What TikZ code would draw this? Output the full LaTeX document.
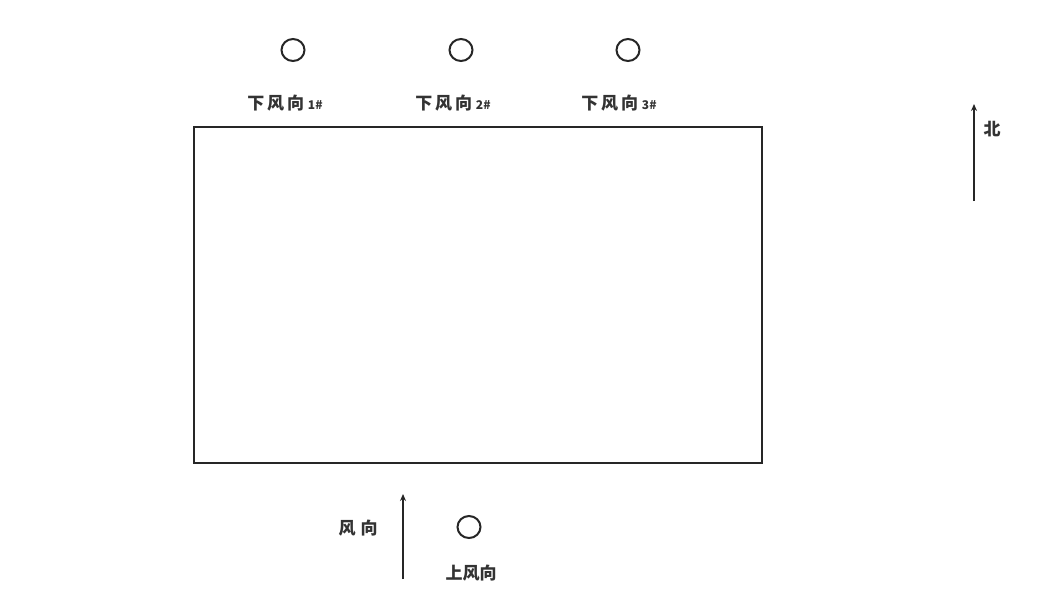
\documentclass[tikz,border=0pt]{standalone}
\usepackage{fontspec}
\newfontfamily\cjk{Noto Sans CJK SC}[BoldFont={Noto Sans CJK SC Black}]
\usetikzlibrary{arrows.meta,shapes.geometric}
\tikzset{
  well/.style={draw=black!85, line width=2pt, ellipse, minimum width=23pt, minimum height=22pt, inner sep=0pt},
  lbl/.style={font=\cjk\bfseries\fontsize{17}{19}\selectfont, text=black!80, inner sep=1pt},
  arr/.style={draw=black!85, line width=2.2pt, -{Stealth[length=7pt,width=6pt]}},
  site/.style={draw=black!85, line width=2.2pt}
}
\newcommand{\numtag}[1]{{\fontsize{12}{13}\selectfont #1}}
\begin{document}
\begin{tikzpicture}[x=1pt,y=-1pt]
\useasboundingbox[fill=white] (0,0) rectangle (1049,606);
\draw[site] (194,127) rectangle (762,463);
\node[well] (d1) at (293,50) {};
\node[well] (d2) at (461,50) {};
\node[well] (d3) at (628,50) {};
\node[lbl] (l1) at (285,103) {下\,风\,向\ \numtag{1\#}};
\node[lbl] (l2) at (453,103) {下\,风\,向\ \numtag{2\#}};
\node[lbl] (l3) at (619,103) {下\,风\,向\ \numtag{3\#}};
\coordinate (ns) at (974,201);
\coordinate (ne) at (974,104);
\draw[arr] (ns) -- (ne);
\node[lbl] (n) at (992,129) {北};
\coordinate (ws) at (403,579);
\coordinate (we) at (403,494);
\draw[arr] (ws) -- (we);
\node[lbl] (w) at (358,528) {风\hspace{5pt}向};
\node[well] (u) at (469,527) {};
\node[lbl] (ul) at (471,573) {上风向};
\end{tikzpicture}
\end{document}
